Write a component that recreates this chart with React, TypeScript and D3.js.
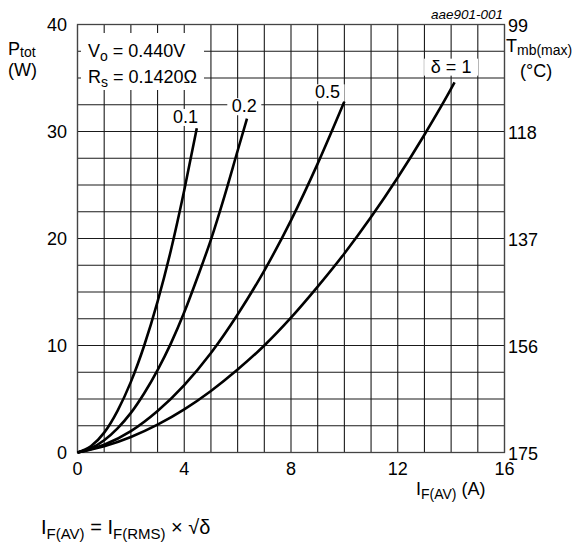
import React from "react";
import * as d3 from "d3";

const leftTicks = [0, 10, 20, 30, 40];
const rightTicks = ["175", "156", "137", "118", "99"];
const xTicks = [0, 4, 8, 12, 16];

const current01 = [0, 0.5, 1, 1.5, 2, 2.5, 3, 3.5, 4, 4.47];
const power01 = [0, 0.58, 1.86, 3.9, 6.6, 10.0, 14.1, 18.9, 24.5, 30.3];
const current02 = [0, 0.5, 1, 1.5, 2, 2.5, 3, 3.5, 4, 4.5, 5, 5.5, 6, 6.35];
const power02 = [0, 0.4, 1.15, 2.26, 3.7, 5.54, 7.7, 10.2, 13.1, 16.4, 19.9, 23.9, 28.2, 31.2];
const current05 = [0, 1, 2, 3, 4, 5, 6, 7, 8, 9, 10];
const power05 = [0, 0.72, 2.0, 3.88, 6.3, 9.3, 12.9, 17.0, 21.7, 27.0, 32.8];
const current1 = [0, 1, 2, 3, 4, 5, 6, 7, 8, 9, 10, 11, 12, 13, 14, 14.13];
const power1 = [0, 0.58, 1.45, 2.6, 4.03, 5.75, 7.75, 10.0, 12.6, 15.5, 18.6, 22.0, 25.7, 29.7, 34.0, 34.6];

const curveLabels = ["0.1", "0.2", "0.5", "δ = 1"];
const labelAnchorX = [4.05, 6.25, 9.37, 14.0];
const labelAnchorY = [30.8, 31.8, 33.1, 35.5];

const FONT = "'Liberation Sans', Arial, sans-serif";

export default function App() {
  const x = d3.scaleLinear().domain([0, 16]).range([77.5, 504.5]);
  const y = d3.scaleLinear().domain([0, 40]).range([452.5, 24.5]);

  const series = [
    { xs: current01, ys: power01 },
    { xs: current02, ys: power02 },
    { xs: current05, ys: power05 },
    { xs: current1, ys: power1 },
  ];
  const line = d3
    .line<[number, number]>()
    .x((d) => x(d[0]))
    .y((d) => y(d[1]))
    .curve(d3.curveMonotoneX);

  const vGrid = d3.range(0, 17, 1);
  const hGrid = d3.range(0, 40.01, 2.5);
  const gridColor = "#1a1a1a";

  return (
    <svg
      width={581}
      height={544}
      style={{ position: "absolute", left: 0, top: 0, background: "#fff" }}
      fontFamily={FONT}
    >
      <rect x={0} y={0} width={581} height={544} fill="#fff" />
      {vGrid.map((v) => (
        <line key={"v" + v} x1={x(v)} x2={x(v)} y1={y(0)} y2={y(40)} stroke={gridColor} strokeWidth={1.1} />
      ))}
      {hGrid.map((v) => (
        <line key={"h" + v} x1={x(0)} x2={x(16)} y1={y(v)} y2={y(v)} stroke={gridColor} strokeWidth={1.1} />
      ))}
      <rect x={x(0)} y={y(40)} width={x(16) - x(0)} height={y(0) - y(40)} fill="none" stroke="#444" strokeWidth={1.3} />

      {/* parameter box */}
      <rect x={81} y={33} width={123} height={57} fill="#fff" />
      <text x={88} y={57} fontSize={18}>
        V<tspan fontSize={14} dy={4}>o</tspan>
        <tspan dy={-4}> = 0.440V</tspan>
      </text>
      <text x={88} y={83} fontSize={18}>
        R<tspan fontSize={14} dy={4}>s</tspan>
        <tspan dy={-4}> = 0.1420Ω</tspan>
      </text>

      {series.map((s, i) => (
        <path
          key={"c" + i}
          d={line(s.xs.map((v, j) => [v, s.ys[j]]) as [number, number][]) || ""}
          fill="none"
          stroke="#000"
          strokeWidth={2.6}
        />
      ))}

      {curveLabels.map((l, i) => {
        const w = l.length * 10 + 4;
        const cx = x(labelAnchorX[i]);
        const cy = y(labelAnchorY[i]);
        return (
          <g key={"l" + i}>
            <rect x={cx - w / 2} y={cy - 14} width={w} height={17} fill="#fff" />
            <text x={cx} y={cy} fontSize={18} textAnchor="middle">
              {l}
            </text>
          </g>
        );
      })}

      {/* left axis */}
      {leftTicks.map((t) => (
        <text key={"lt" + t} x={67} y={y(t) + 6} fontSize={18} textAnchor="end">
          {t}
        </text>
      ))}
      <text x={8} y={55} fontSize={18}>
        P<tspan fontSize={14} dy={2}>tot</tspan>
      </text>
      <text x={8} y={76} fontSize={18}>
        (W)
      </text>

      {/* right axis */}
      {rightTicks.map((t, i) => (
        <text key={"rt" + t} x={508} y={y(i * 10) + 7} fontSize={18}>
          {t}
        </text>
      ))}
      <text x={506} y={52} fontSize={18}>
        T<tspan fontSize={14} dy={3}>mb(max)</tspan>
      </text>
      <text x={520} y={77} fontSize={18}>
        (°C)
      </text>
      <text x={503} y={19} fontSize={13.5} fontStyle="italic" textAnchor="end">
        aae901-001
      </text>

      {/* x axis */}
      {xTicks.map((t) => (
        <text key={"xt" + t} x={x(t)} y={475} fontSize={18} textAnchor="middle">
          {t}
        </text>
      ))}
      <text x={416} y={495} fontSize={18}>
        I<tspan fontSize={14} dy={4}>F(AV)</tspan>
        <tspan dy={-4}> (A)</tspan>
      </text>

      <text x={41} y={534} fontSize={20}>
        I<tspan fontSize={15} dy={5}>F(AV)</tspan>
        <tspan dy={-5}> = I</tspan>
        <tspan fontSize={15} dy={5}>F(RMS)</tspan>
        <tspan dy={-5}> × √δ</tspan>
      </text>
    </svg>
  );
}
